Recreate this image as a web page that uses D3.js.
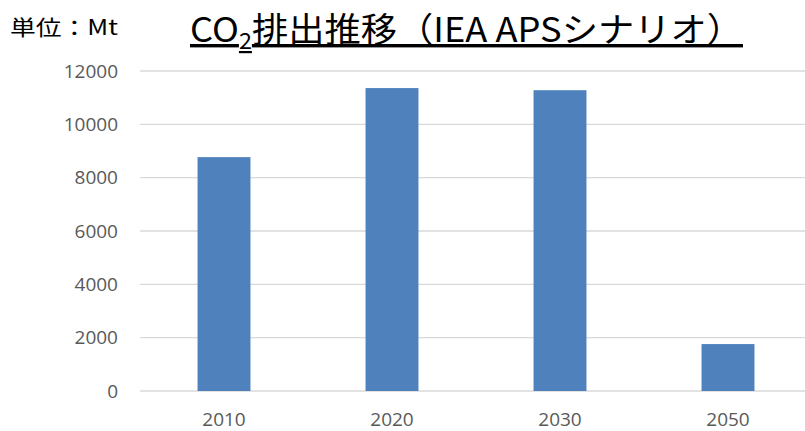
<!DOCTYPE html>
<html>
<head>
<meta charset="utf-8">
<script src="https://cdn.jsdelivr.net/npm/d3@7"></script>
<style>
  body { margin: 0; background: #fff; }
  text { font-family: "Noto Sans CJK JP", "Noto Sans", sans-serif; }
</style>
</head>
<body>
<div id="chart"></div>
<script>
// data
const years = ["2010", "2020", "2030", "2050"];
const emissions = [8770, 11360, 11280, 1760];
const yTicks = [0, 2000, 4000, 6000, 8000, 10000, 12000];

const width = 805;
const height = 431;
const marginTop = 71;
const marginBottom = 40;
const marginLeft = 140;
const plotRight = 812;

const svg = d3.select("#chart")
    .append("svg")
    .attr("width", width)
    .attr("height", height)
    .attr("viewBox", [0, 0, width, height]);

const x = d3.scaleBand()
    .domain(years)
    .range([marginLeft, plotRight])
    .paddingInner(0.685)
    .paddingOuter(0.3425);

const y = d3.scaleLinear()
    .domain([0, 12000])
    .range([height - marginBottom, marginTop]);

// grid lines
svg.append("g")
    .selectAll("line")
    .data(yTicks)
    .join("line")
    .attr("x1", marginLeft)
    .attr("x2", plotRight)
    .attr("y1", d => y(d))
    .attr("y2", d => y(d))
    .attr("stroke", "#d9d9d9")
    .attr("stroke-width", 1.3);

// bars
svg.append("g")
    .selectAll("rect")
    .data(years)
    .join("rect")
    .attr("x", d => x(d))
    .attr("width", x.bandwidth())
    .attr("y", (d, i) => y(emissions[i]))
    .attr("height", (d, i) => y(0) - y(emissions[i]))
    .attr("fill", "#4f81bd");

// y axis labels
const yAxis = svg.append("g")
    .attr("transform", `translate(${marginLeft - 22},0)`)
    .call(d3.axisLeft(y).tickValues(yTicks).tickFormat(d3.format("d")).tickSize(0).tickPadding(0));
yAxis.select(".domain").remove();
yAxis.selectAll(".tick text")
    .attr("fill", "#595959")
    .style("font-size", "19px")
    .style("font-family", "'Open Sans', 'Noto Sans', sans-serif");

// x axis labels
const xAxis = svg.append("g")
    .attr("transform", `translate(0,${y(0)})`)
    .call(d3.axisBottom(x).tickSize(0).tickPadding(22));
xAxis.select(".domain").remove();
xAxis.selectAll(".tick text")
    .attr("fill", "#595959")
    .style("font-size", "19px")
    .style("font-family", "'Open Sans', 'Noto Sans', sans-serif");

// unit label
svg.append("text")
    .attr("x", 10)
    .attr("y", 35)
    .attr("fill", "#000")
    .style("font-size", "21px")
    .attr("textLength", 108)
    .attr("lengthAdjust", "spacingAndGlyphs")
    .text("単位：Mt");

// title
const title = svg.append("text")
    .attr("x", 190)
    .attr("y", 42)
    .attr("fill", "#000")
    .style("font-size", "34px")
    .attr("text-decoration", "underline")
    .attr("textLength", 553)
    .attr("lengthAdjust", "spacingAndGlyphs");
title.append("tspan").text("CO");
title.append("tspan").attr("dy", 7).style("font-size", "22px").text("2");
title.append("tspan").attr("dy", -7).text("排出推移（IEA APSシナリオ）");
</script>
</body>
</html>
